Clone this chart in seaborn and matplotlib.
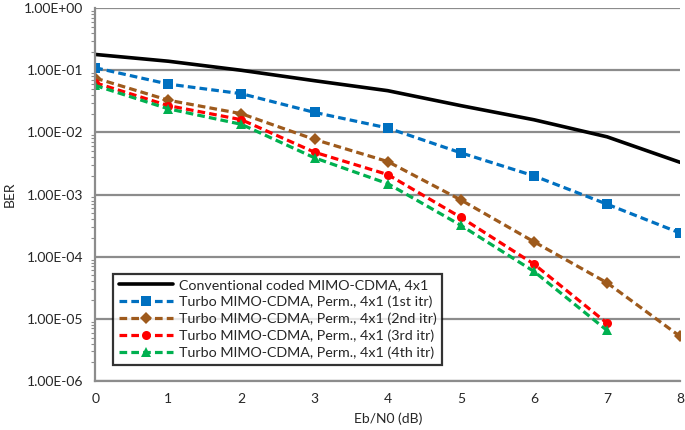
import numpy as np
import pandas as pd
import seaborn as sns
import matplotlib.pyplot as plt
from matplotlib.ticker import LogLocator, FuncFormatter, NullFormatter

# BER curves
snr = [0, 1, 2, 3, 4, 5, 6, 7, 8]
snr_short = [0, 1, 2, 3, 4, 5, 6, 7]

ber_conv = [0.18, 0.14, 0.10, 0.068, 0.047, 0.027, 0.016, 0.0085, 0.0033]
ber_itr1 = [0.11, 0.060, 0.042, 0.021, 0.0118, 0.0047, 0.0020, 0.00070, 0.00024]
ber_itr2 = [0.075, 0.033, 0.020, 0.0077, 0.0034, 0.00082, 0.000174, 3.8e-5, 5.2e-6]
ber_itr3 = [0.063, 0.027, 0.016, 0.0048, 0.0021, 0.00043, 7.6e-5, 8.5e-6]
ber_itr4 = [0.057, 0.024, 0.0135, 0.0039, 0.0015, 0.00032, 5.8e-5, 6.5e-6]

labels = [
    "Conventional coded MIMO-CDMA, 4x1",
    "Turbo MIMO-CDMA, Perm., 4x1 (1st itr)",
    "Turbo MIMO-CDMA, Perm., 4x1 (2nd itr)",
    "Turbo MIMO-CDMA, Perm., 4x1 (3rd itr)",
    "Turbo MIMO-CDMA, Perm., 4x1 (4th itr)",
]
colors = ["#000000", "#0070C0", "#9E5A1C", "#FF0000", "#00B050"]
markers = ["", "s", "D", "o", "^"]
yticks = [1e-6, 1e-5, 1e-4, 1e-3, 1e-2, 1e-1, 1.0]

rows = []
for lab, xs, ys in zip(labels,
                       [snr, snr, snr, snr_short, snr_short],
                       [ber_conv, ber_itr1, ber_itr2, ber_itr3, ber_itr4]):
    for x, y in zip(xs, ys):
        rows.append({"snr": x, "ber": y, "series": lab})
df = pd.DataFrame(rows)

sns.set_style("white")
plt.rcParams['font.family'] = ['Lato', 'DejaVu Sans']

fig = plt.figure(figsize=(6.85, 4.3), dpi=100)
ax = fig.add_axes([0.139, 0.114, 0.854, 0.867])

for lab, col, mk in zip(labels, colors, markers):
    sub = df[df["series"] == lab]
    if mk == "":
        sns.lineplot(data=sub, x="snr", y="ber", color=col, lw=2.6,
                     ax=ax, label=lab)
    else:
        sns.lineplot(data=sub, x="snr", y="ber", color=col, lw=2.3,
                     marker=mk, markersize=6.5, markeredgewidth=0,
                     dashes=False, ax=ax, label=lab)
        ax.lines[-1].set_dashes((2.4, 1.3))

ax.set_yscale("log")
ax.set_ylim(1e-6, 1)
ax.set_xlim(0, 8)
ax.set_xticks(snr)

ax.set_yticks(yticks)
ax.yaxis.set_minor_locator(LogLocator(base=10, subs=np.arange(2, 10), numticks=10))
ax.yaxis.set_major_formatter(FuncFormatter(lambda v, p: f"{v:.2E}"))
ax.yaxis.set_minor_formatter(NullFormatter())

ax.grid(axis="y", which="major", color="#8c8c8c", lw=1.6)
ax.grid(axis="x", visible=False)
ax.set_axisbelow(True)

for s in ["top", "right"]:
    ax.spines[s].set_visible(False)
for s in ["left", "bottom"]:
    ax.spines[s].set_color("#8c8c8c")
    ax.spines[s].set_linewidth(1.6)

ax.tick_params(axis="both", which="major", direction="out", length=5,
               width=1.4, color="#8c8c8c", labelsize=10)
ax.tick_params(axis="y", which="minor", direction="out", length=3,
               width=0.8, color="#8c8c8c", left=True)

ax.set_xlabel("Eb/N0 (dB)", fontsize=10)
ax.set_ylabel("BER", fontsize=10)
ax.yaxis.set_label_coords(-0.135, 0.5)
ax.xaxis.set_label_coords(0.5, -0.085)

leg = ax.legend(loc="lower left", bbox_to_anchor=(0.018, 0.025), fontsize=10.3,
                frameon=True, fancybox=False, handlelength=3.8,
                borderpad=0.4, labelspacing=0.3, handletextpad=0.4)
leg.get_frame().set_edgecolor("black")
leg.get_frame().set_linewidth(1.6)

fig.savefig("out.png", dpi=100)
